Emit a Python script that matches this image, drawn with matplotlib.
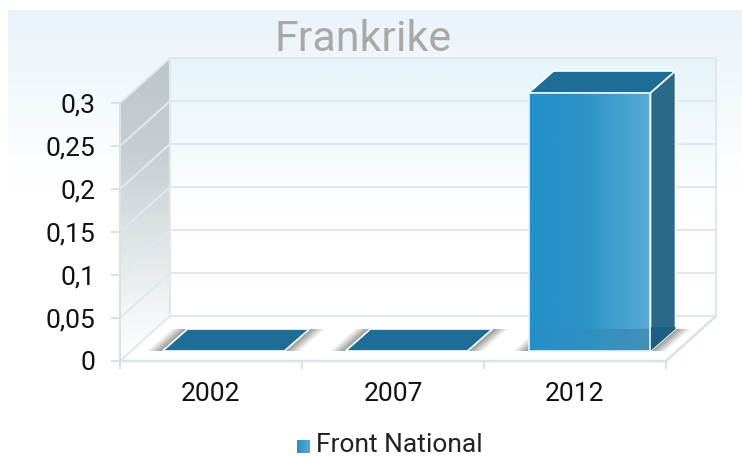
import numpy as np
import matplotlib
matplotlib.use("Agg")
import matplotlib.pyplot as plt
from matplotlib.colors import to_rgb
from matplotlib.patches import Polygon

plt.rcParams["font.family"] = ["Roboto", "DejaVu Sans"]

years = ["2002", "2007", "2012"]
values = [0, 0, 0.3]
y_ticks = [0, 0.05, 0.1, 0.15, 0.2, 0.25, 0.3]
y_labels = ["0", "0,05", "0,1", "0,15", "0,2", "0,25", "0,3"]
title = "Frankrike"
series_name = "Front National"

W, H = 742, 460
X0, X1, Y0, Y1 = 120, 666, 362, 104      # front plane in pixels (y down)
GRID = "#dfe9ed"

fig = plt.figure(figsize=(W / 100, H / 100), dpi=100, facecolor="white")
ax = fig.add_axes([0, 0, 1, 1])
ax.set_axis_off()

SX = 3 / (X1 - X0)          # data per pixel
SY = 0.3 / (Y0 - Y1)


def off(x, y, dx=0, dy=0):
    """Data point shifted by a pixel offset (dy positive = up)."""
    return (x + dx * SX, y + dy * SY)


def px(x, y):
    return ((x - X0) * SX, (Y0 - y) * SY)


def gradient(pts, stops_y=None, stops_x=None, zorder=1):
    """Fill a polygon (data coords) with a vertical or horizontal gradient."""
    pts = np.array(pts)
    stops = stops_y if stops_y is not None else stops_x
    pos = [s[0] for s in stops]
    cols = np.array([to_rgb(s[1]) for s in stops])
    t = np.linspace(0, 1, 256)
    ramp = np.stack([np.interp(t, pos, cols[:, k]) for k in range(3)], axis=-1)
    img = ramp[:, None, :] if stops_y is not None else ramp[None, :, :]
    im = ax.imshow(img, extent=[pts[:, 0].min(), pts[:, 0].max(),
                                pts[:, 1].min(), pts[:, 1].max()],
                   origin="upper", aspect="auto", zorder=zorder,
                   interpolation="bilinear")
    clip = Polygon(pts, transform=ax.transData, fc="none", ec="none")
    ax.add_patch(clip)
    im.set_clip_path(clip)
    return im


def shadow(p0, p1, width, zorder=3):
    """Soft grey band beside the edge p0-p1, fading over width pixels."""
    n = 16
    for k in range(n):
        d0, d1 = width * k / n, width * (k + 1) / n
        alpha = 0.75 * (1 - k / n) ** 1.2
        ax.add_patch(Polygon([off(*p0, d0, 0), off(*p1, d0, 0), off(*p1, d1, 0), off(*p0, d1, 0)],
                             fc="#555555", ec="none", alpha=alpha, zorder=zorder))


# panel and walls
a, b = px(8, 11), px(742, 460)
gradient([a, (b[0], a[1]), b, (a[0], b[1])],
         stops_y=[(0, "#e9f3fa"), (0.39, "#ffffff"), (1, "#ffffff")], zorder=0)

DX, DY = 50, 45
back = [off(0, 0, DX, DY), off(3, 0, DX, DY), off(3, 0.3, DX, DY), off(0, 0.3, DX, DY)]
gradient(back, stops_y=[(0, "#e6f4f9"), (0.6, "#ffffff"), (1, "#ffffff")], zorder=1)
left = [(0, 0), off(0, 0, DX, DY), off(0, 0.3, DX, DY), (0, 0.3)]
gradient(left, stops_y=[(0, "#bdc6c9"), (0.3, "#c6ced1"), (0.85, "#f4f6f7"), (1, "#ffffff")],
         zorder=1)

# grid lines on the walls
for t in y_ticks:
    xs, ys = zip((0, t), off(0, t, DX, DY), off(3, t, DX, DY))
    ax.plot(xs, ys, color=GRID, lw=1.5, zorder=2)
for p, q in [(off(0, 0, DX, DY), off(0, 0.3, DX, DY)),
             (off(3, 0, DX, DY), off(3, 0.3, DX, DY))]:
    ax.plot(*zip(p, q), color=GRID, lw=1.5, zorder=2)
ax.plot(*zip((0, 0), (3, 0), off(3, 0, DX, DY)), color="#d8e3e9", lw=1.8, zorder=2)
ax.plot(*zip((0, 0), (0, 0.3)), color="#d8e3e9", lw=1.5, zorder=2)

# axis ticks
for t, lab in zip(y_ticks, y_labels):
    ax.plot(*zip(off(0, t, -8, 0), (0, t)), color="#d8e3e9", lw=1.5, zorder=2)
    ax.text(*off(0, t, -25, -1.5), lab, ha="right", va="center", fontsize=19, color="#111111")
for i in range(4):
    ax.plot(*zip((i, 0), off(i, 0, 0, -7)), color="#d8e3e9", lw=1.5, zorder=2)
for i, year in enumerate(years):
    ax.text(*off(i + 0.5, 0, 0, -32), year, ha="center", va="center",
            fontsize=19, color="#111111")

# bars
BAR_W = 122 * SX
BX, BY = 25, 22              # bar depth, pixels
for i, v in enumerate(values):
    lift = (12.5 + i, 10)    # bar front sits this far into the floor, pixels
    xl = i + 0.5 - BAR_W / 2
    xr = xl + BAR_W
    fl = off(xl, 0, *lift)
    fr = off(xr, 0, *lift)
    bl = off(xl, 0, lift[0] + BX, lift[1] + BY)
    br = off(xr, 0, lift[0] + BX, lift[1] + BY)

    # soft shadows either side of the footprint
    shadow(fl, bl, -16)
    shadow(fr, br, 16)

    top = [off(*fl, 0, v / SY), off(*fr, 0, v / SY), off(*br, 0, v / SY), off(*bl, 0, v / SY)]
    ax.add_patch(Polygon(top, fc="#1d6d97", ec="white", lw=1.2, zorder=5))
    if v > 0:
        side = [fr, br, top[2], top[1]]
        ax.add_patch(Polygon(side, fc="#296987", ec="white", lw=1.2, zorder=5))
        ax.add_patch(Polygon([fr, br, off(*br, 0, 2), off(*fr, 0, 24)],
                             fc="#1d5f82", ec="none", zorder=5))
        front = [fl, fr, top[1], top[0]]
        gradient(front, stops_x=[(0, "#2490c8"), (0.45, "#2c93c8"), (1, "#58abd4")], zorder=6)
        gradient([fl, fr, off(*fr, 0, 22), off(*fl, 0, 22)],
                 stops_x=[(0, "#2490c8"), (0.45, "#2f8fc2"), (1, "#4590b8")], zorder=7)
        ax.add_patch(Polygon(front, fc="none", ec="#e8f2f7", lw=1.2, zorder=8))

# legend and title
lx, ly = px(297, 454)
gradient([(lx, ly), off(lx, ly, 13, 0), off(lx, ly, 13, 13), off(lx, ly, 0, 13)],
         stops_x=[(0, "#2490c8"), (1, "#58abd4")], zorder=6)
ax.text(*px(316, 445), series_name, ha="left", va="center", fontsize=19, color="#222222")
ax.text(*px(363, 39), title, ha="center", va="center", fontsize=31, color="#a8a8a8")

ax.set_xlim(px(0, 0)[0], px(W, 0)[0])
ax.set_ylim(px(0, H)[1], px(0, 0)[1])
fig.savefig("out.png", dpi=100)
